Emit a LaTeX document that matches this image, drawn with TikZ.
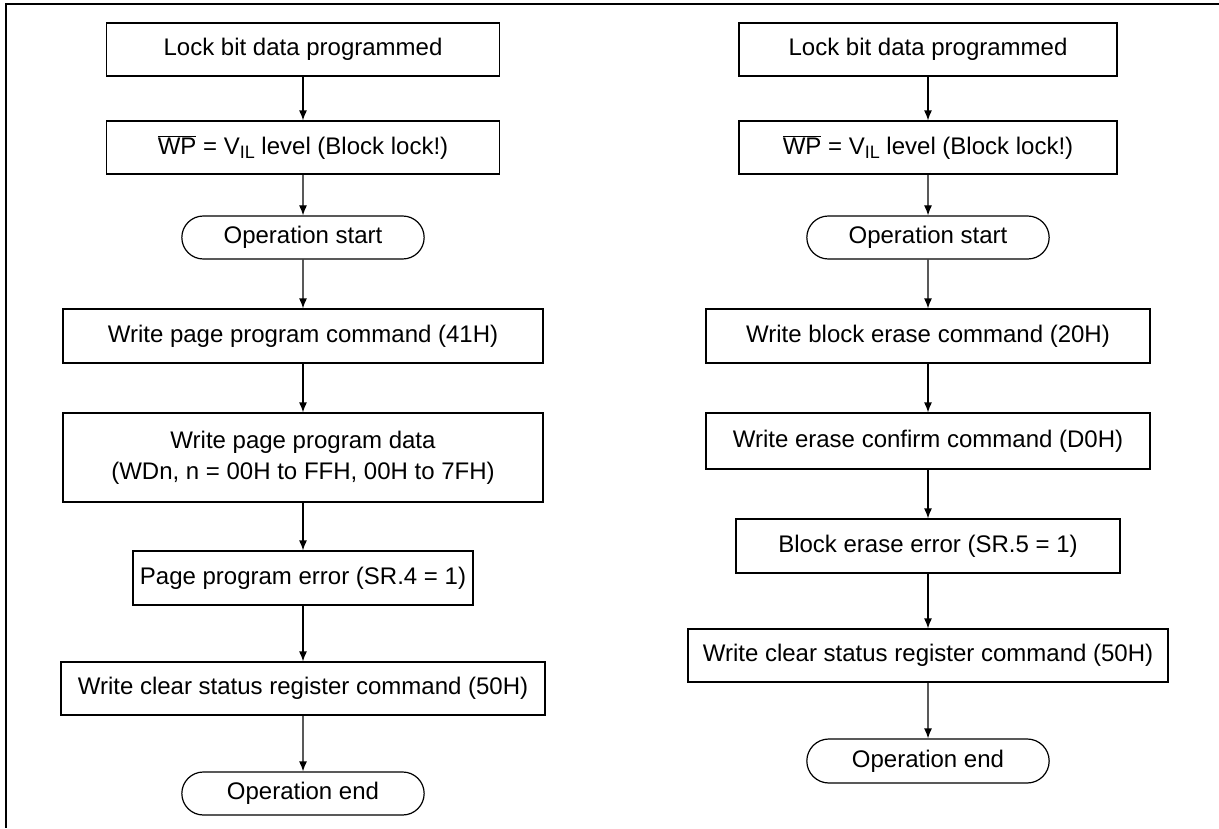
\documentclass[tikz,border=0pt]{standalone}
\usepackage{fontspec}
\setmainfont{Liberation Sans}
\usepackage{tikz}
\usetikzlibrary{calc,shapes,shapes.misc,arrows.meta,positioning}
\newcommand{\vsub}[1]{\raisebox{-0.3ex}{\fontsize{18}{18}\selectfont #1}}
\tikzset{%
    stepbox/.style={%
        rectangle, draw=black, line width=1.2pt, minimum height=53pt, text centered, align=center,
        font=\fontsize{24}{31}\selectfont
    },
    termbox/.style={%
        rounded rectangle, draw=black, line width=1.2pt, minimum width=249pt, minimum height=43pt,
        text centered, font=\fontsize{24}{31}\selectfont
    },
    flow/.style={%
        -{Latex[length=10pt,width=8pt]}, line width=1.2pt
    },
    frame/.style={%
        line width=1.2pt
    },
}

\begin{document}
\begin{tikzpicture}[x=1pt,y=-1pt]

    \useasboundingbox (0,0) rectangle (1219,828);
    \draw[frame] (1219,4) -- (6,4) -- (6,828);

    % page program flow
    \begin{scope}
      \node[stepbox, minimum width=393pt] (lockL) at (303,49.5) {Lock bit data programmed};
      \node[stepbox, minimum width=393pt] (wpL) at (303,147.5) {$\overline{\mbox{WP}}$ = V\vsub{IL} level (Block lock!)};
      \node[termbox] (startL) at (303,237.5) {Operation start};
      \node[stepbox, minimum width=480pt, minimum height=54pt] (cmdL) at (303,336) {Write page program command (41H)};
      \node[stepbox, minimum width=480pt, minimum height=89pt] (dataL) at (303,457.5) {Write page program data\\(WDn, n = 00H to FFH, 00H to 7FH)};
      \node[stepbox, minimum width=340pt, minimum height=54pt] (errL) at (303,578) {Page program error (SR.4 = 1)};
      \node[stepbox, minimum width=484pt] (clrL) at (303,688.5) {Write clear status register command (50H)};
      \node[termbox] (endL) at (303,793.5) {Operation end};
      \draw[flow] (lockL) -- (wpL);
      \draw[flow] (wpL) -- (startL);
      \draw[flow] (startL) -- (cmdL);
      \draw[flow] (cmdL) -- (dataL);
      \draw[flow] (dataL) -- (errL);
      \draw[flow] (errL) -- (clrL);
      \draw[flow] (clrL) -- (endL);
    \end{scope}

    % block erase flow
    \begin{scope}
      \node[stepbox, minimum width=378pt] (lockR) at (928,49.5) {Lock bit data programmed};
      \node[stepbox, minimum width=378pt] (wpR) at (928,147.5) {$\overline{\mbox{WP}}$ = V\vsub{IL} level (Block lock!)};
      \node[termbox] (startR) at (928,237.5) {Operation start};
      \node[stepbox, minimum width=444pt, minimum height=54pt] (cmdR) at (928,336) {Write block erase command (20H)};
      \node[stepbox, minimum width=444pt, minimum height=56pt] (confR) at (928,441) {Write erase confirm command (D0H)};
      \node[stepbox, minimum width=384pt, minimum height=54pt] (errR) at (928,546) {Block erase error (SR.5 = 1)};
      \node[stepbox, minimum width=480pt] (clrR) at (928,655.5) {Write clear status register command (50H)};
      \node[termbox, minimum height=44pt] (endR) at (928,761) {Operation end};
      \draw[flow] (lockR) -- (wpR);
      \draw[flow] (wpR) -- (startR);
      \draw[flow] (startR) -- (cmdR);
      \draw[flow] (cmdR) -- (confR);
      \draw[flow] (confR) -- (errR);
      \draw[flow] (errR) -- (clrR);
      \draw[flow] (clrR) -- (endR);
    \end{scope}

\end{tikzpicture}
\end{document}
